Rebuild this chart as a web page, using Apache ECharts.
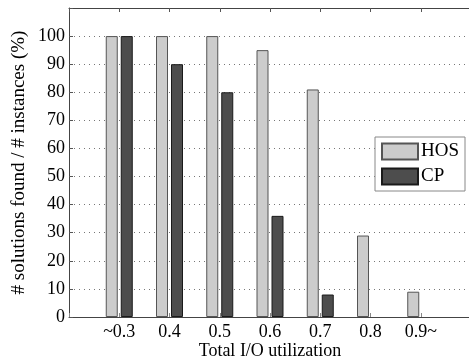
<!DOCTYPE html>
<html>
<head>
<meta charset="utf-8">
<script src="https://cdn.jsdelivr.net/npm/echarts@6/dist/echarts.min.js"></script>
<style>
html,body{margin:0;padding:0;background:#fff;}
#chart{width:469px;height:360px;}
</style>
</head>
<body>
<div id="chart"></div>
<script>
// Utilization buckets; blank slots pad the axis on both sides
const categories = ['', '~0.3', '0.4', '0.5', '0.6', '0.7', '0.8', '0.9~', ''];
const hosValues = [null, 100, 100, 100, 95, 81, 29, 9, null];
const cpValues  = [null, 100, 90, 80, 36, 8, 0, 0, null];
const yTicks = [0, 10, 20, 30, 40, 50, 60, 70, 80, 90, 100];

const font = '"Liberation Serif", "Times New Roman", serif';

// zero-height bars carry no outline so they stay invisible on the baseline
function barData(values) {
  return values.map(v => (v === 0 ? { value: v, itemStyle: { borderWidth: 0 } } : v));
}

const chart = echarts.init(document.getElementById('chart'));

chart.setOption({
  animation: false,
  backgroundColor: '#fff',
  grid: { left: 69, top: 8, right: -2, bottom: 43, containLabel: false, outerBoundsMode: 'none' },
  legend: {
    data: ['HOS', 'CP'],
    orient: 'vertical',
    left: 375, top: 137,
    icon: 'rect',
    itemWidth: 36, itemHeight: 16, itemGap: 6,
    padding: [5, 6, 5, 6],
    backgroundColor: '#fff',
    borderColor: '#888', borderWidth: 1,
    textStyle: { fontFamily: font, fontSize: 19, color: '#000', padding: [0, 0, 0, -2] }
  },
  xAxis: [{
    type: 'category',
    data: categories,
    boundaryGap: false,
    position: 'bottom',
    axisLine: { lineStyle: { color: '#444', width: 1 } },
    axisTick: { show: true, inside: true, length: 4, lineStyle: { color: '#888' } },
    axisLabel: { fontFamily: font, fontSize: 18, color: '#000', margin: 6, interval: 0 },
    splitLine: { show: false },
    name: 'Total I/O utilization',
    nameLocation: 'middle',
    nameGap: 25,
    nameMoveOverlap: false,
    nameTextStyle: { fontFamily: font, fontSize: 18, color: '#000' }
  }, {
    type: 'category',
    data: categories,
    boundaryGap: false,
    position: 'top',
    axisLine: { show: true, lineStyle: { color: '#444', width: 1 } },
    axisTick: { show: true, inside: true, length: 4, lineStyle: { color: '#555' } },
    axisLabel: { show: false },
    splitLine: { show: false }
  }],
  yAxis: {
    type: 'value',
    min: 0, max: 110, interval: 10,
    axisLine: { show: true, lineStyle: { color: '#444', width: 1 } },
    axisTick: { show: true, inside: true, length: 4, lineStyle: { color: '#555' } },
    axisLabel: {
      fontFamily: font, fontSize: 18, color: '#000', margin: 4,
      formatter: v => (yTicks.indexOf(v) >= 0 ? String(v) : '')
    },
    splitLine: { show: true, lineStyle: { color: '#777', type: [1, 4], width: 1 } },
    name: '# solutions found / # instances (%)',
    nameLocation: 'middle',
    nameGap: 40,
    nameMoveOverlap: false,
    nameTextStyle: { fontFamily: font, fontSize: 19, color: '#000' }
  },
  series: [{
    name: 'HOS',
    type: 'bar',
    data: barData(hosValues),
    barWidth: 12,
    barGap: '25%',
    itemStyle: { color: '#cccccc', borderColor: '#555', borderWidth: 1 }
  }, {
    name: 'CP',
    type: 'bar',
    data: barData(cpValues),
    barWidth: 12,
    itemStyle: { color: '#4d4d4d', borderColor: '#1a1a1a', borderWidth: 1 }
  }]
});
</script>
</body>
</html>
